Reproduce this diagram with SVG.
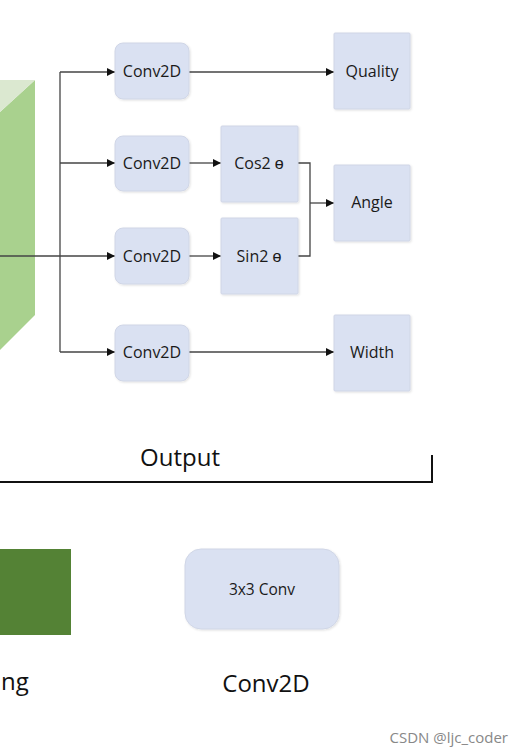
<svg xmlns="http://www.w3.org/2000/svg" width="524" height="756" viewBox="0 0 524 756">
<defs>
<marker id="arr" viewBox="0 0 10 10" refX="10" refY="5" markerWidth="8" markerHeight="8" markerUnits="userSpaceOnUse" orient="auto">
<path d="M0,0 L10,5 L0,10 z" fill="#111"/>
</marker>
<filter id="sh" x="-10%" y="-10%" width="130%" height="130%">
<feDropShadow dx="1" dy="1" stdDeviation="0.8" flood-color="#000" flood-opacity="0.12"/>
</filter>
</defs>
<style>
.box{fill:#dae1f2;stroke:#d0d6e6;stroke-width:1;filter:url(#sh)}
.t{font-family:"Open Sans","Liberation Sans",sans-serif;fill:#1a1a1a;text-anchor:middle}
.s{font-size:16px}
.c{fill:none;stroke:#444;stroke-width:1.3}
.big{font-family:"Open Sans","Liberation Sans",sans-serif;font-size:24px;fill:#111}
</style>
<rect width="524" height="756" fill="#fff"/>

<g id="prism">
<polygon points="35,80 35,315 0,350 0,112" fill="#a9d18e"/>
<polygon points="0,80 35,80 0,112" fill="#dbe8d0"/>
</g>

<g id="connectors">
<path class="c" d="M60,72 V352"/>
<path class="c" d="M60,72 H115" marker-end="url(#arr)"/>
<path class="c" d="M60,163 H115" marker-end="url(#arr)"/>
<path class="c" d="M0,256 H115" marker-end="url(#arr)"/>
<path class="c" d="M60,352 H115" marker-end="url(#arr)"/>
<path class="c" d="M189,72 H334" marker-end="url(#arr)"/>
<path class="c" d="M189,163 H221" marker-end="url(#arr)"/>
<path class="c" d="M189,256 H221" marker-end="url(#arr)"/>
<path class="c" d="M298,163 H310 V256 H298"/>
<path class="c" d="M310,203 H334" marker-end="url(#arr)"/>
<path class="c" d="M189,352 H334" marker-end="url(#arr)"/>
</g>

<g id="conv1"><rect class="box" x="115" y="43" width="74" height="56" rx="8"/><text class="t s" x="152" y="77">Conv2D</text></g>
<g id="conv2"><rect class="box" x="115" y="136" width="74" height="55" rx="8"/><text class="t s" x="152" y="169">Conv2D</text></g>
<g id="conv3"><rect class="box" x="115" y="228" width="74" height="56" rx="8"/><text class="t s" x="152" y="262">Conv2D</text></g>
<g id="conv4"><rect class="box" x="115" y="325" width="74" height="56" rx="8"/><text class="t s" x="152" y="358">Conv2D</text></g>

<g id="cos"><rect class="box" x="221" y="126" width="77" height="76" rx="1"/><text class="t s" x="259" y="169">Cos2 ɵ</text></g>
<g id="sin"><rect class="box" x="221" y="218" width="77" height="76" rx="1"/><text class="t s" x="259" y="262">Sin2 ɵ</text></g>

<g id="quality"><rect class="box" x="334" y="33" width="76" height="76" rx="1"/><text class="t s" x="372" y="77">Quality</text></g>
<g id="angle"><rect class="box" x="334" y="165" width="76" height="76" rx="1"/><text class="t s" x="372" y="208">Angle</text></g>
<g id="width"><rect class="box" x="334" y="315" width="76" height="76" rx="1"/><text class="t s" x="372" y="358">Width</text></g>

<g id="output">
<path d="M0,482 H432 V455" fill="none" stroke="#111" stroke-width="2"/>
<text class="big" x="180" y="466" text-anchor="middle">Output</text>
</g>

<g id="legend-green">
<rect x="0" y="549" width="71" height="86" fill="#548235"/>
<text class="big" x="1" y="690">ng</text>
</g>

<g id="legend-conv">
<rect class="box" x="185" y="549" width="154" height="80" rx="16"/>
<text class="t" x="262" y="595" font-size="15.5">3x3 Conv</text>
<text class="big" x="266" y="692" text-anchor="middle">Conv2D</text>
</g>

<text x="508" y="743" text-anchor="end" font-family="'Open Sans','Liberation Sans',sans-serif" font-size="15" fill="#888">CSDN @ljc_coder</text>
</svg>
